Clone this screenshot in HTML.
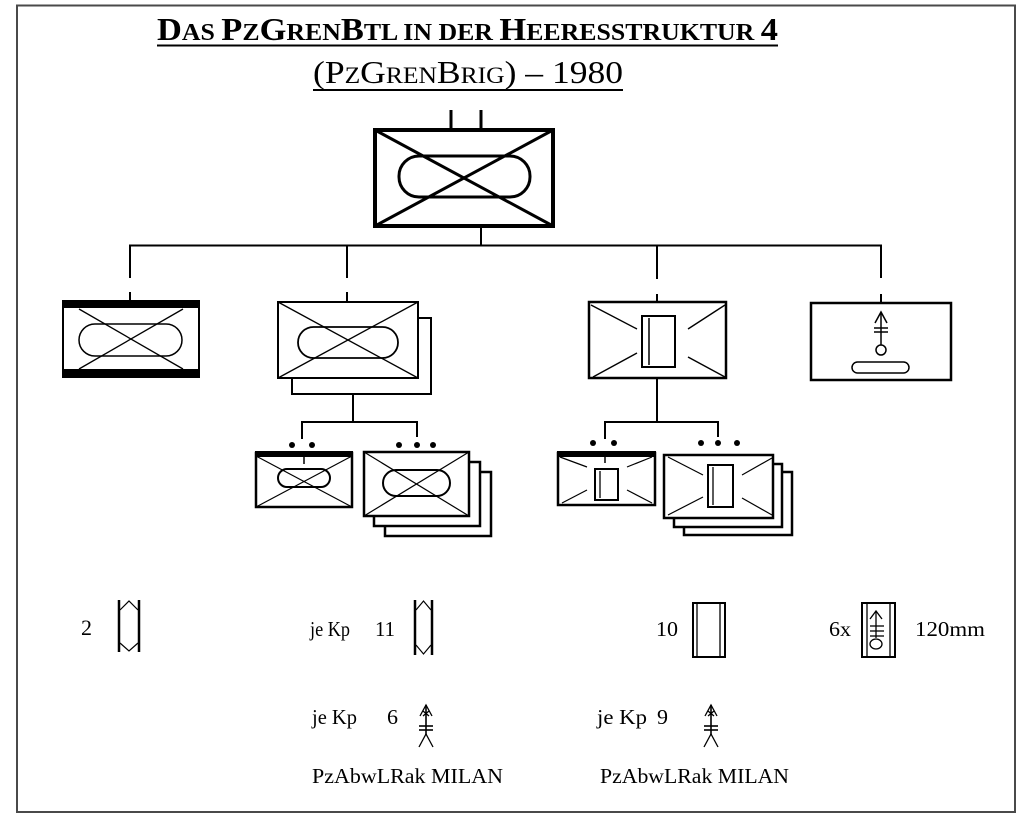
<!DOCTYPE html>
<html>
<head>
<meta charset="utf-8">
<style>
html,body{margin:0;padding:0;background:#fff;}
svg{display:block;}
text{font-family:"Liberation Serif",serif;fill:#000;}
</style>
</head>
<body>
<svg width="1024" height="832" viewBox="0 0 1024 832" xmlns="http://www.w3.org/2000/svg">
<rect x="0" y="0" width="1024" height="832" fill="#fff"/>
<!-- frame -->
<rect x="17" y="5.5" width="998" height="806.5" fill="none" stroke="#4a4a4a" stroke-width="2"/>

<!-- Title -->
<text x="157" y="40" textLength="621" lengthAdjust="spacingAndGlyphs" font-weight="bold" font-size="32">D<tspan font-size="24">AS </tspan>P<tspan font-size="24">Z</tspan>G<tspan font-size="24">REN</tspan>B<tspan font-size="24">TL IN DER </tspan>H<tspan font-size="24">EERESSTRUKTUR </tspan>4</text>
<line x1="157" y1="45.5" x2="778" y2="45.5" stroke="#000" stroke-width="2"/>
<text x="313" y="83" textLength="310" lengthAdjust="spacingAndGlyphs" font-size="32">(P<tspan font-size="23">Z</tspan>G<tspan font-size="23">REN</tspan>B<tspan font-size="23">RIG</tspan>) – 1980</text>
<line x1="313" y1="90" x2="623" y2="90" stroke="#000" stroke-width="2"/>

<g stroke="#000" fill="none">
<!-- Top battalion box -->
<line x1="451" y1="110" x2="451" y2="129" stroke-width="3"/>
<line x1="481" y1="110" x2="481" y2="129" stroke-width="3"/>
<rect x="375" y="130" width="178" height="96" stroke-width="4"/>
<line x1="375" y1="130" x2="553" y2="226" stroke-width="3"/>
<line x1="375" y1="226" x2="553" y2="130" stroke-width="3"/>
<rect x="399" y="156" width="131" height="41" rx="20" stroke-width="3"/>
<line x1="481" y1="228" x2="481" y2="246" stroke-width="2"/>

<!-- main connector -->
<line x1="129" y1="245.5" x2="882" y2="245.5" stroke-width="2"/>
<line x1="130" y1="245" x2="130" y2="278" stroke-width="2"/>
<line x1="130" y1="292" x2="130" y2="301" stroke-width="2"/>
<line x1="347" y1="245" x2="347" y2="278" stroke-width="2"/>
<line x1="347" y1="292" x2="347" y2="302" stroke-width="2"/>
<line x1="657" y1="245" x2="657" y2="279" stroke-width="2"/>
<line x1="657" y1="294" x2="657" y2="302" stroke-width="2"/>
<line x1="881" y1="245" x2="881" y2="278" stroke-width="2"/>
<line x1="881" y1="294" x2="881" y2="303" stroke-width="2"/>

<!-- Box 1 (Stab/Versorgung) -->
<rect x="63" y="301" width="136" height="76" stroke-width="2"/>
<rect x="62" y="300" width="138" height="8" fill="#000" stroke="none"/>
<rect x="62" y="369" width="138" height="9" fill="#000" stroke="none"/>
<line x1="79" y1="309" x2="183" y2="369" stroke-width="1.3"/>
<line x1="79" y1="369" x2="183" y2="309" stroke-width="1.3"/>
<rect x="79" y="324" width="103" height="32" rx="16" stroke-width="1.5"/>

<!-- Box 2 (PzGren Kp x2) -->
<rect x="292" y="318" width="139" height="76" fill="#fff" stroke-width="2"/>
<rect x="278" y="302" width="140" height="76" fill="#fff" stroke-width="2"/>
<line x1="278" y1="302" x2="418" y2="378" stroke-width="1.3"/>
<line x1="278" y1="378" x2="418" y2="302" stroke-width="1.3"/>
<rect x="298" y="327" width="100" height="31" rx="15.5" stroke-width="1.8"/>
<line x1="353" y1="394" x2="353" y2="423" stroke-width="2"/>
<line x1="301" y1="422" x2="418" y2="422" stroke-width="2"/>
<line x1="302" y1="422" x2="302" y2="439" stroke-width="2"/>
<line x1="417" y1="422" x2="417" y2="437" stroke-width="2"/>

<!-- Sub-box 2 left -->
<rect x="256" y="453" width="96" height="54" fill="#fff" stroke-width="2.5"/>
<rect x="255" y="451" width="98" height="6" fill="#000" stroke="none"/>
<line x1="304" y1="456" x2="304" y2="464" stroke-width="1.5"/>
<line x1="256" y1="456" x2="352" y2="507" stroke-width="1.2"/>
<line x1="256" y1="507" x2="352" y2="456" stroke-width="1.2"/>
<rect x="278" y="469" width="52" height="18" rx="9" stroke-width="2"/>

<!-- Sub-box 2 right (x3) -->
<rect x="385" y="472" width="106" height="64" fill="#fff" stroke-width="2.5"/>
<rect x="374" y="462" width="106" height="64" fill="#fff" stroke-width="2.5"/>
<rect x="364" y="452" width="105" height="64" fill="#fff" stroke-width="2.5"/>
<line x1="364" y1="452" x2="469" y2="516" stroke-width="1.2"/>
<line x1="364" y1="516" x2="469" y2="452" stroke-width="1.2"/>
<rect x="383" y="470" width="67" height="26" rx="13" stroke-width="2"/>

<!-- Box 3 (Pz Kp) -->
<rect x="589" y="302" width="137" height="76" stroke-width="2.5"/>
<line x1="591" y1="305" x2="637" y2="329" stroke-width="1.4"/>
<line x1="688" y1="329" x2="725" y2="305" stroke-width="1.4"/>
<line x1="593" y1="377" x2="637" y2="353" stroke-width="1.4"/>
<line x1="688" y1="357" x2="725" y2="377" stroke-width="1.4"/>
<rect x="642" y="316" width="33" height="51" stroke-width="2"/>
<line x1="649" y1="318" x2="649" y2="365" stroke-width="1.5"/>
<line x1="657" y1="378" x2="657" y2="423" stroke-width="2"/>
<line x1="604" y1="422" x2="719" y2="422" stroke-width="2"/>
<line x1="605" y1="422" x2="605" y2="439" stroke-width="2"/>
<line x1="718" y1="422" x2="718" y2="437" stroke-width="2"/>

<!-- Sub-box 3 left -->
<rect x="558" y="453" width="97" height="52" fill="#fff" stroke-width="2.5"/>
<rect x="557" y="451" width="99" height="6" fill="#000" stroke="none"/>
<line x1="605" y1="456" x2="605" y2="463" stroke-width="1.5"/>
<line x1="560" y1="457" x2="587" y2="467" stroke-width="1.2"/>
<line x1="562" y1="503" x2="587" y2="490" stroke-width="1.2"/>
<line x1="627" y1="467" x2="652" y2="457" stroke-width="1.2"/>
<line x1="627" y1="490" x2="652" y2="503" stroke-width="1.2"/>
<rect x="595" y="469" width="23" height="31" stroke-width="2"/>
<line x1="600" y1="471" x2="600" y2="498" stroke-width="1.3"/>

<!-- Sub-box 3 right (x3) -->
<rect x="684" y="472" width="108" height="63" fill="#fff" stroke-width="2.5"/>
<rect x="674" y="464" width="108" height="63" fill="#fff" stroke-width="2.5"/>
<rect x="664" y="455" width="109" height="63" fill="#fff" stroke-width="2.5"/>
<line x1="668" y1="457" x2="703" y2="475" stroke-width="1.2"/>
<line x1="668" y1="515" x2="703" y2="497" stroke-width="1.2"/>
<line x1="742" y1="475" x2="772" y2="458" stroke-width="1.2"/>
<line x1="742" y1="498" x2="772" y2="515" stroke-width="1.2"/>
<rect x="708" y="465" width="25" height="42" stroke-width="2"/>
<line x1="713" y1="467" x2="713" y2="505" stroke-width="1.3"/>

<!-- Box 4 (Mörser) -->
<rect x="811" y="303" width="140" height="77" stroke-width="2.5"/>
<polyline points="875,323 881,312 887,323" stroke-width="1.5"/>
<line x1="881" y1="312" x2="881" y2="345" stroke-width="1.5"/>
<line x1="874" y1="328" x2="888" y2="328" stroke-width="1.5"/>
<line x1="874" y1="332" x2="888" y2="332" stroke-width="1.5"/>
<circle cx="881" cy="350" r="5" stroke-width="1.5"/>
<rect x="852" y="362" width="57" height="11" rx="5.5" stroke-width="1.5"/>
</g>

<!-- dots -->
<g fill="#000">
<circle cx="292" cy="445" r="3"/><circle cx="312" cy="445" r="3"/>
<circle cx="399" cy="445" r="3"/><circle cx="417" cy="445" r="3"/><circle cx="433" cy="445" r="3"/>
<circle cx="593" cy="443" r="3"/><circle cx="614" cy="443" r="3"/>
<circle cx="701" cy="443" r="3"/><circle cx="718" cy="443" r="3"/><circle cx="737" cy="443" r="3"/>
</g>

<!-- Legend row 1 -->
<text x="81" y="635" font-size="22" textLength="11" lengthAdjust="spacingAndGlyphs">2</text>
<g stroke="#000" fill="none">
<line x1="119" y1="600" x2="119" y2="652" stroke-width="2.5"/>
<line x1="139" y1="600" x2="139" y2="652" stroke-width="2.5"/>
<polyline points="120,610 129,601 138,610" stroke-width="1.2"/>
<polyline points="120,643 129,651 138,643" stroke-width="1.2"/>
</g>
<text x="310" y="636" font-size="21" textLength="40" lengthAdjust="spacingAndGlyphs">je Kp</text>
<text x="375" y="636" font-size="21" textLength="20" lengthAdjust="spacingAndGlyphs">11</text>
<g stroke="#000" fill="none">
<line x1="415" y1="600" x2="415" y2="655" stroke-width="2.5"/>
<line x1="432" y1="600" x2="432" y2="655" stroke-width="2.5"/>
<polyline points="416,610 423.5,601 431,610" stroke-width="1.2"/>
<polyline points="416,645 423.5,654 431,645" stroke-width="1.2"/>
</g>

<text x="656" y="636" font-size="21" textLength="22" lengthAdjust="spacingAndGlyphs">10</text>
<g stroke="#000" fill="none">
<rect x="693" y="603" width="32" height="54" stroke-width="2"/>
<line x1="697" y1="604" x2="697" y2="656" stroke-width="1.3"/>
<line x1="720" y1="604" x2="720" y2="656" stroke-width="1.3"/>
</g>

<text x="829" y="636" font-size="21" textLength="22" lengthAdjust="spacingAndGlyphs">6x</text>
<g stroke="#000" fill="none">
<rect x="862" y="603" width="33" height="54" stroke-width="2"/>
<line x1="867" y1="604" x2="867" y2="656" stroke-width="1.3"/>
<line x1="890" y1="604" x2="890" y2="656" stroke-width="1.3"/>
<polyline points="870,619 876,611 882,619" stroke-width="1.3"/>
<line x1="876" y1="611" x2="876" y2="638" stroke-width="1.3"/>
<line x1="870" y1="626" x2="884" y2="626" stroke-width="1.3"/>
<line x1="870" y1="631" x2="884" y2="631" stroke-width="1.3"/>
<line x1="870" y1="636" x2="884" y2="636" stroke-width="1.3"/>
<ellipse cx="876" cy="644" rx="6" ry="5" stroke-width="1.3"/>
</g>
<text x="915" y="636" font-size="21" textLength="70" lengthAdjust="spacingAndGlyphs">120mm</text>

<!-- Legend row 2 (MILAN) -->
<text x="312" y="724" font-size="21" textLength="45" lengthAdjust="spacingAndGlyphs">je Kp</text>
<text x="387" y="724" font-size="21" textLength="11" lengthAdjust="spacingAndGlyphs">6</text>
<g stroke="#000" fill="none" stroke-width="1.3">
<polyline points="420,716 426,705 432,716"/>
<line x1="423" y1="711" x2="429" y2="716"/>
<line x1="429" y1="711" x2="423" y2="716"/>
<line x1="426" y1="705" x2="426" y2="735" stroke-width="1.6"/>
<line x1="419" y1="726" x2="433" y2="726" stroke-width="1.6"/>
<line x1="419" y1="730" x2="433" y2="730" stroke-width="1.6"/>
<polyline points="419,747 426,734 433,747"/>
</g>
<text x="597" y="724" font-size="21" textLength="50" lengthAdjust="spacingAndGlyphs">je Kp</text>
<text x="657" y="724" font-size="21" textLength="11" lengthAdjust="spacingAndGlyphs">9</text>
<g stroke="#000" fill="none" stroke-width="1.3">
<polyline points="705,716 711,705 717,716"/>
<line x1="708" y1="711" x2="714" y2="716"/>
<line x1="714" y1="711" x2="708" y2="716"/>
<line x1="711" y1="705" x2="711" y2="735" stroke-width="1.6"/>
<line x1="704" y1="726" x2="718" y2="726" stroke-width="1.6"/>
<line x1="704" y1="730" x2="718" y2="730" stroke-width="1.6"/>
<polyline points="704,747 711,734 718,747"/>
</g>

<text x="312" y="783" font-size="21" textLength="191" lengthAdjust="spacingAndGlyphs">PzAbwLRak MILAN</text>
<text x="600" y="783" font-size="21" textLength="189" lengthAdjust="spacingAndGlyphs">PzAbwLRak MILAN</text>
</svg>
</body>
</html>
